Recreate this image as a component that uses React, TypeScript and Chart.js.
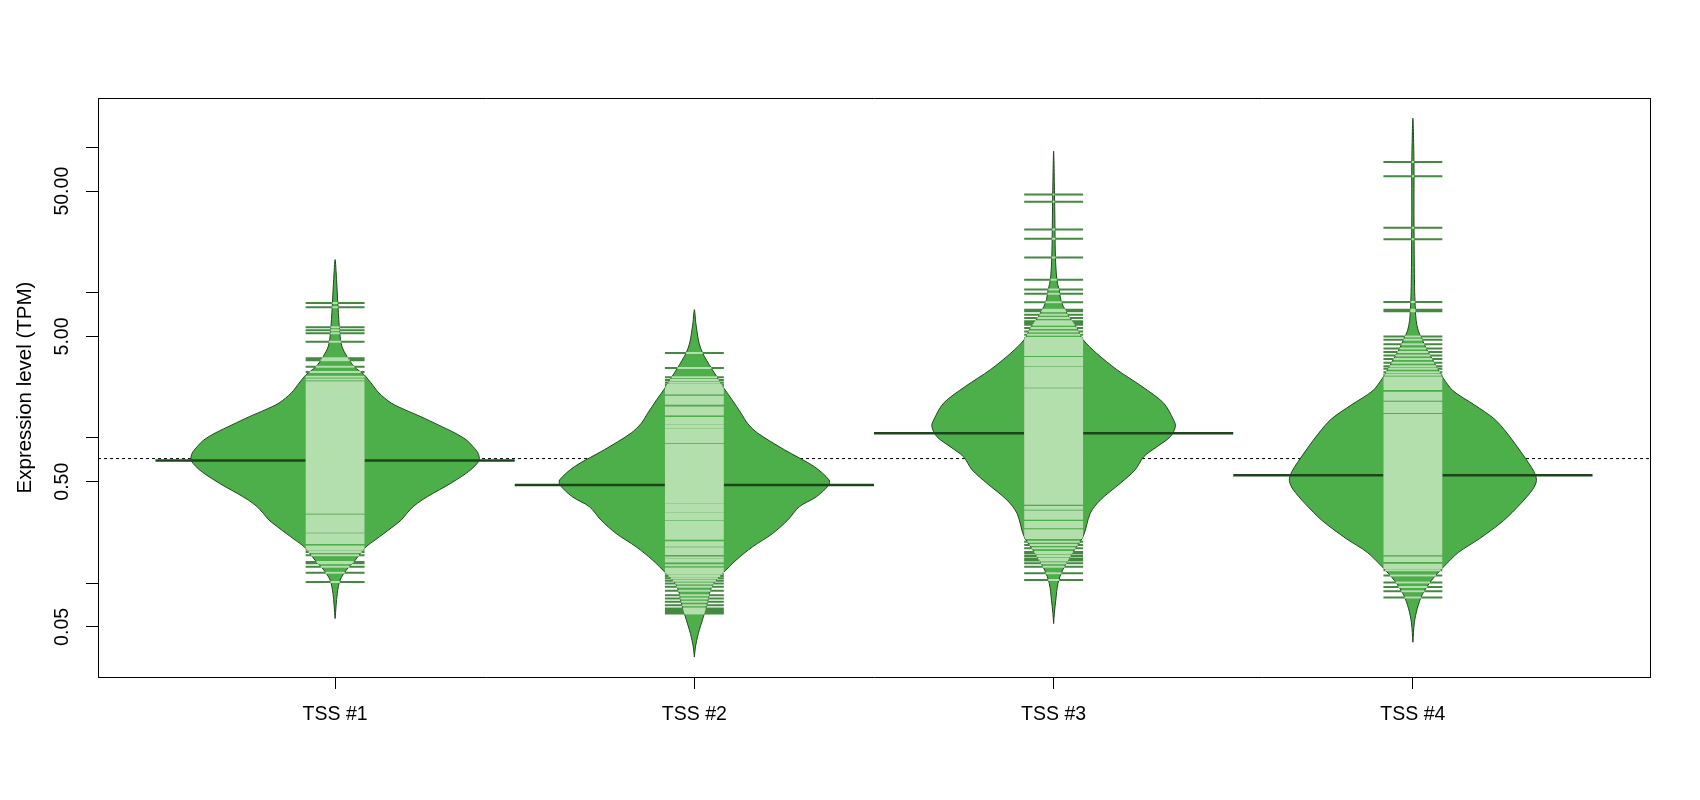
import React, { useEffect, useRef } from 'react';
import { Chart, registerables } from 'chart.js';

Chart.register(...registerables);

// ---------- data ----------
const CATEGORIES = ['TSS #1', 'TSS #2', 'TSS #3', 'TSS #4'];
const CATEGORY_POSITIONS = [1, 2, 3, 4];
const Y_TICKS = [0.05, 0.1, 0.5, 1, 5, 10, 50, 100];
const Y_TICK_LABELS = ['0.05', '', '0.50', '', '5.00', '', '50.00', ''];
const Y_TITLE = 'Expression level (TPM)';
const OVERALL_MEAN = 0.721;
const BEAN_AVERAGES = [0.698, 0.474, 1.078, 0.554];

// individual observations (TPM)
const TSS1_OBS = [
  0.102, 0.118, 0.13, 0.137, 0.14, 0.156, 0.164,
  0.17, 0.175, 0.179, 0.189, 0.194, 0.2, 0.206, 0.212, 0.217, 0.226, 0.232, 0.239, 0.246, 0.254, 0.262,
  0.27, 0.278, 0.286, 0.293, 0.306, 0.314, 0.323, 0.333, 0.343, 0.354, 0.365, 0.376, 0.388, 0.4, 0.412,
  0.424, 0.437, 0.445, 0.458, 0.466, 0.48, 0.495, 0.51, 0.525, 0.535, 0.548, 0.56, 0.577, 0.595, 0.613,
  0.632, 0.651, 0.671, 0.691, 0.712, 0.734, 0.756, 0.779, 0.803, 0.827, 0.852, 0.878, 0.905, 0.932, 0.96,
  0.99, 1.02, 1.05, 1.08, 1.115, 1.148, 1.183, 1.219, 1.256, 1.294, 1.333, 1.374, 1.415, 1.458, 1.502,
  1.548, 1.595, 1.643, 1.693, 1.73, 1.79, 1.84, 1.9, 1.96, 2.02, 2.08, 2.14, 2.21, 2.28, 2.35, 2.42,
  2.53, 2.64, 2.85, 3.09, 3.43, 3.54, 4.59, 5.26, 5.52, 5.79, 7.95, 8.5,
];
const TSS2_OBS = [
  0.0618, 0.0634, 0.0652, 0.067, 0.0705, 0.0744, 0.0785, 0.0827, 0.0886, 0.0944, 0.0996, 0.104, 0.108,
  0.112, 0.116, 0.119, 0.123, 0.126, 0.133, 0.141, 0.145, 0.15, 0.159, 0.164, 0.169, 0.174, 0.181, 0.186,
  0.191, 0.202, 0.208, 0.214, 0.221, 0.228, 0.235, 0.242, 0.25, 0.258, 0.265, 0.276, 0.283, 0.292, 0.3,
  0.31, 0.319, 0.329, 0.339, 0.35, 0.362, 0.372, 0.383, 0.394, 0.405, 0.417, 0.429, 0.441, 0.454, 0.467,
  0.48, 0.493, 0.507, 0.521, 0.536, 0.551, 0.567, 0.583, 0.6, 0.617, 0.635, 0.653, 0.672, 0.691, 0.711,
  0.732, 0.753, 0.775, 0.797, 0.82, 0.844, 0.868, 0.893, 0.935, 0.962, 0.99, 1.02, 1.05, 1.08, 1.11, 1.14,
  1.18, 1.21, 1.25, 1.29, 1.33, 1.37, 1.45, 1.49, 1.53, 1.58, 1.62, 1.72, 1.76, 1.81, 1.87, 1.92, 2.02,
  2.08, 2.14, 2.2, 2.27, 2.32,
  2.41, 2.51, 2.62, 3.03, 3.84,
];
const TSS3_OBS = [
  0.105, 0.117, 0.13, 0.137, 0.143, 0.148, 0.154, 0.16, 0.164, 0.174, 0.183, 0.193,
  0.205, 0.211, 0.218, 0.224, 0.231, 0.243, 0.25, 0.257, 0.264, 0.278, 0.286, 0.294, 0.302, 0.311, 0.326,
  0.335, 0.352, 0.361, 0.371, 0.382, 0.393, 0.404, 0.416, 0.428, 0.44, 0.453, 0.466, 0.479, 0.493, 0.507,
  0.522, 0.537, 0.552, 0.568, 0.585, 0.602, 0.619, 0.637, 0.656, 0.675, 0.694, 0.714, 0.735, 0.756, 0.778,
  0.801, 0.824, 0.848, 0.873, 0.898, 0.924, 0.951, 0.979, 1.007, 1.036, 1.066, 1.097, 1.129, 1.162, 1.196,
  1.23, 1.266, 1.303, 1.341, 1.38, 1.42, 1.461, 1.503, 1.547, 1.592, 1.638, 1.686, 1.735, 1.785, 1.837,
  1.89, 1.945, 2.0, 2.06, 2.12, 2.16, 2.25, 2.31, 2.38, 2.45, 2.52, 2.59, 2.67, 2.74, 2.82, 2.9, 2.99,
  3.04, 3.17, 3.26, 3.35, 3.45, 3.55, 3.73, 3.84, 3.95, 4.06, 4.18, 4.3, 4.42, 4.55, 4.68, 4.8,
  4.87, 5.14, 5.41, 5.71, 6.02, 6.19, 6.35, 6.7, 7.06, 7.44, 7.64, 8.58, 9.85, 10.5, 12.3, 17.5, 23.5,
  27.2, 42.3, 47.5,
];
const TSS4_OBS = [
  0.0797, 0.0881, 0.0943, 0.101, 0.113, 0.123, 0.127,
  0.131, 0.134, 0.142, 0.146, 0.15, 0.158, 0.163, 0.168, 0.173, 0.178, 0.183, 0.189, 0.195, 0.201, 0.207,
  0.213, 0.219, 0.226, 0.233, 0.24, 0.247, 0.254, 0.262, 0.27, 0.278, 0.286, 0.295, 0.304, 0.313, 0.322,
  0.332, 0.342, 0.352, 0.363, 0.374, 0.385, 0.396, 0.408, 0.42, 0.433, 0.446, 0.459, 0.473, 0.487, 0.502,
  0.517, 0.532, 0.548, 0.565, 0.582, 0.599, 0.617, 0.636, 0.655, 0.674, 0.695, 0.716, 0.737, 0.759, 0.782,
  0.805, 0.829, 0.854, 0.88, 0.906, 0.933, 0.961, 0.99, 1.02, 1.05, 1.082, 1.114, 1.148, 1.182, 1.218,
  1.254, 1.292, 1.33, 1.37, 1.41, 1.44, 1.51, 1.55, 1.6, 1.65, 1.69, 1.75, 1.83, 1.88, 1.94, 2.0, 2.05,
  2.17, 2.23, 2.3, 2.37, 2.44, 2.51, 2.57,
  2.61, 2.72, 2.83, 2.99, 3.12, 3.3, 3.49, 3.69, 3.9, 4.13, 4.41, 4.75, 4.99, 7.46, 7.63, 8.62, 23.3, 28.0,
  63.4, 79.3,
];

// bean density outlines: TPM level and half-width (x-axis units)
const TSS1_DENS_TPM = [0.0571, 0.085, 0.105, 0.123, 0.144, 0.16, 0.178, 0.198, 0.22, 0.245, 0.272, 0.303, 0.336, 0.374, 0.416, 0.462, 0.514, 0.571, 0.634, 0.706, 0.785, 0.871, 0.97, 1.08, 1.23, 1.4, 1.56, 1.74, 2.04, 2.39, 2.72, 3.1, 3.64, 4.27, 5.28, 8.05, 12.3, 16.9];
const TSS1_DENS_W = [0, 0.006, 0.014, 0.031, 0.056, 0.07, 0.086, 0.111, 0.136, 0.161, 0.184, 0.2, 0.217, 0.242, 0.273, 0.306, 0.337, 0.365, 0.387, 0.401, 0.398, 0.384, 0.365, 0.334, 0.287, 0.239, 0.195, 0.156, 0.122, 0.1, 0.081, 0.053, 0.033, 0.019, 0.013, 0.008, 0.004, 0];
const TSS2_DENS_TPM = [0.031, 0.0364, 0.045, 0.0586, 0.0764, 0.085, 0.0996, 0.117, 0.144, 0.178, 0.22, 0.272, 0.336, 0.394, 0.474, 0.514, 0.634, 0.828, 1.08, 1.26, 1.48, 1.83, 2.26, 2.65, 3.03, 3.84, 4.5, 5.28, 6.19, 7.64];
const TSS2_DENS_W = [0, 0.003, 0.011, 0.025, 0.038, 0.042, 0.053, 0.079, 0.116, 0.162, 0.218, 0.26, 0.292, 0.34, 0.374, 0.375, 0.334, 0.251, 0.176, 0.148, 0.13, 0.105, 0.079, 0.062, 0.047, 0.023, 0.013, 0.008, 0.004, 0];
const TSS3_DENS_TPM = [0.0527, 0.0618, 0.0764, 0.0996, 0.123, 0.16, 0.209, 0.303, 0.374, 0.488, 0.603, 0.743, 0.871, 1.02, 1.2, 1.33, 1.74, 2.26, 2.95, 3.84, 4.75, 5.86, 6.87, 8.05, 8.95, 10.5, 12.3, 17.8, 39.4, 94.4];
const TSS3_DENS_W = [0, 0.002, 0.006, 0.012, 0.025, 0.051, 0.082, 0.102, 0.13, 0.186, 0.227, 0.251, 0.288, 0.325, 0.339, 0.334, 0.306, 0.246, 0.176, 0.119, 0.082, 0.062, 0.042, 0.027, 0.02, 0.015, 0.009, 0.005, 0.003, 0];
const TSS4_DENS_TPM = [0.0392, 0.0533, 0.0667, 0.0834, 0.104, 0.13, 0.163, 0.203, 0.269, 0.355, 0.444, 0.51, 0.586, 0.774, 1.08, 1.35, 1.69, 2.11, 2.57, 2.96, 3.49, 4.13, 4.88, 5.46, 6.45, 7.63, 10.07, 14.9, 34.4, 79.3, 159];
const TSS4_DENS_W = [0, 0.004, 0.012, 0.026, 0.051, 0.086, 0.127, 0.186, 0.252, 0.301, 0.334, 0.344, 0.337, 0.305, 0.262, 0.227, 0.171, 0.112, 0.085, 0.07, 0.054, 0.037, 0.024, 0.015, 0.009, 0.007, 0.005, 0.004, 0.003, 0.003, 0];

const OBSERVATIONS = [TSS1_OBS, TSS2_OBS, TSS3_OBS, TSS4_OBS];
const DENS_TPM = [TSS1_DENS_TPM, TSS2_DENS_TPM, TSS3_DENS_TPM, TSS4_DENS_TPM];
const DENS_W = [TSS1_DENS_W, TSS2_DENS_W, TSS3_DENS_W, TSS4_DENS_W];

// ---------- layout / style ----------
const X_MIN = 0.34;
const X_MAX = 4.66;
const Y_MIN = 0.0226;
const Y_MAX = 219;
const BEANLINE_HALF = 0.082;
const AVG_HALF = 0.5;
const FONT = "'Liberation Sans', Arial, Helvetica, sans-serif";
const FONT_SIZE = 19.5;
const TITLE_FONT_SIZE = 20.5;
const BEAN_FILL = '#4DAF4A';
const BEAN_BORDER = '#21461f';
const INNER_LINE = '#b3dfad';
const OUTER_LINE = '#438a40';
const AVG_LINE = '#1d451b';

function halfWidthAt(tpm: number[], w: number[], v: number): number {
  const lv = Math.log10(v);
  for (let i = 0; i < tpm.length - 1; i++) {
    const a = Math.log10(tpm[i]);
    const b = Math.log10(tpm[i + 1]);
    if (lv >= a && lv <= b) {
      const t = (lv - a) / (b - a);
      return w[i] + t * (w[i + 1] - w[i]);
    }
  }
  return 0;
}

function buildDatasets(): any[] {
  const ds: any[] = [];
  ds.push({
    label: 'overall',
    data: [{ x: X_MIN, y: OVERALL_MEAN }, { x: X_MAX, y: OVERALL_MEAN }],
    borderColor: '#000',
    borderWidth: 1,
    borderDash: [3, 3],
    pointRadius: 0,
    fill: false,
    order: 100,
  });
  CATEGORY_POSITIONS.forEach((c, k) => {
    const tpm = DENS_TPM[k];
    const w = DENS_W[k];
    const poly: any[] = [];
    for (let i = 0; i < tpm.length; i++) poly.push({ x: c + w[i], y: tpm[i] });
    for (let i = tpm.length - 2; i >= 0; i--) poly.push({ x: c - w[i], y: tpm[i] });
    ds.push({
      label: 'bean' + k,
      data: poly,
      borderColor: BEAN_BORDER,
      borderWidth: 1,
      backgroundColor: BEAN_FILL,
      fill: 'shape',
      tension: 0.3,
      pointRadius: 0,
      order: 50,
    });
    ds.push({
      label: 'avg' + k,
      data: [{ x: c - AVG_HALF, y: BEAN_AVERAGES[k] }, { x: c + AVG_HALF, y: BEAN_AVERAGES[k] }],
      borderColor: AVG_LINE,
      borderWidth: 2.5,
      pointRadius: 0,
      fill: false,
      order: 40,
    });
    const outer: any[] = [];
    const inner: any[] = [];
    OBSERVATIONS[k].forEach((v) => {
      outer.push({ x: c - BEANLINE_HALF, y: v }, { x: c + BEANLINE_HALF, y: v }, { x: c, y: null });
      const h = Math.min(BEANLINE_HALF, halfWidthAt(tpm, w, v));
      if (h > 0.0008) inner.push({ x: c - h, y: v }, { x: c + h, y: v }, { x: c, y: null });
    });
    ds.push({
      label: 'outer' + k,
      data: outer,
      borderColor: OUTER_LINE,
      borderWidth: 2,
      borderCapStyle: 'butt',
      pointRadius: 0,
      spanGaps: false,
      fill: false,
      order: 30,
    });
    ds.push({
      label: 'inner' + k,
      data: inner,
      borderColor: INNER_LINE,
      borderWidth: 2,
      borderCapStyle: 'butt',
      pointRadius: 0,
      spanGaps: false,
      fill: false,
      order: 20,
    });
  });
  return ds.map((d) => ({ xAxisID: 'x', yAxisID: 'y', ...d }));
}

export default function App() {
  const ref = useRef<HTMLCanvasElement | null>(null);
  useEffect(() => {
    if (!ref.current) return;
    Chart.defaults.font.family = FONT;
    Chart.defaults.font.size = FONT_SIZE;
    Chart.defaults.color = '#000';
    const axisGrid = {
      display: true,
      drawOnChartArea: false,
      drawTicks: true,
      tickLength: 12,
      color: '#000',
      lineWidth: 1,
    };
    const chart = new Chart(ref.current, {
      type: 'line',
      data: { datasets: buildDatasets() },
      options: {
        responsive: false,
        animation: false,
        devicePixelRatio: 1,
        events: [],
        layout: { padding: { top: 98, right: 50, left: 0, bottom: 0 } },
        plugins: { legend: { display: false }, tooltip: { enabled: false } },
        scales: {
          x: {
            type: 'linear',
            position: 'bottom',
            min: X_MIN,
            max: X_MAX,
            bounds: 'data',
            afterBuildTicks: (s: any) => {
              s.ticks = CATEGORY_POSITIONS.map((v) => ({ value: v }));
            },
            afterFit: (s: any) => {
              s.height = 123;
            },
            ticks: {
              callback: (_v: any, i: number) => CATEGORIES[i],
              autoSkip: false,
              maxRotation: 0,
              minRotation: 0,
              padding: 14,
              color: '#000',
              font: { size: FONT_SIZE, family: FONT },
            },
            grid: axisGrid,
            border: { display: true, color: '#000', width: 1 },
          },
          y: {
            type: 'logarithmic',
            position: 'left',
            min: Y_MIN,
            max: Y_MAX,
            bounds: 'data',
            afterBuildTicks: (s: any) => {
              s.ticks = Y_TICKS.map((v) => ({ value: v }));
            },
            afterFit: (s: any) => {
              s.width = 98;
            },
            ticks: {
              callback: (_v: any, i: number) => Y_TICK_LABELS[i],
              autoSkip: false,
              minRotation: 90,
              maxRotation: 90,
              crossAlign: 'center',
              padding: -1,
              color: '#000',
              font: { size: FONT_SIZE, family: FONT },
            },
            grid: axisGrid,
            border: { display: true, color: '#000', width: 1 },
            title: {
              display: true,
              text: Y_TITLE,
              color: '#000',
              font: { size: TITLE_FONT_SIZE, family: FONT },
              padding: { top: 13, bottom: 0 },
            },
          },
          x2: {
            type: 'linear',
            position: 'top',
            display: true,
            ticks: { display: false },
            grid: { display: false, drawTicks: false },
            border: { display: true, color: '#000', width: 1 },
            afterFit: (s: any) => {
              s.height = 0;
            },
          },
          y2: {
            type: 'linear',
            position: 'right',
            display: true,
            ticks: { display: false },
            grid: { display: false, drawTicks: false },
            border: { display: true, color: '#000', width: 1 },
            afterFit: (s: any) => {
              s.width = 0;
            },
          },
        },
      } as any,
    });
    return () => chart.destroy();
  }, []);
  return (
    <div style={{ position: 'fixed', left: 0, top: 0, width: 1700, height: 800, background: '#fff' }}>
      <canvas ref={ref} width={1700} height={800} style={{ display: 'block', width: 1700, height: 800 }} />
    </div>
  );
}
